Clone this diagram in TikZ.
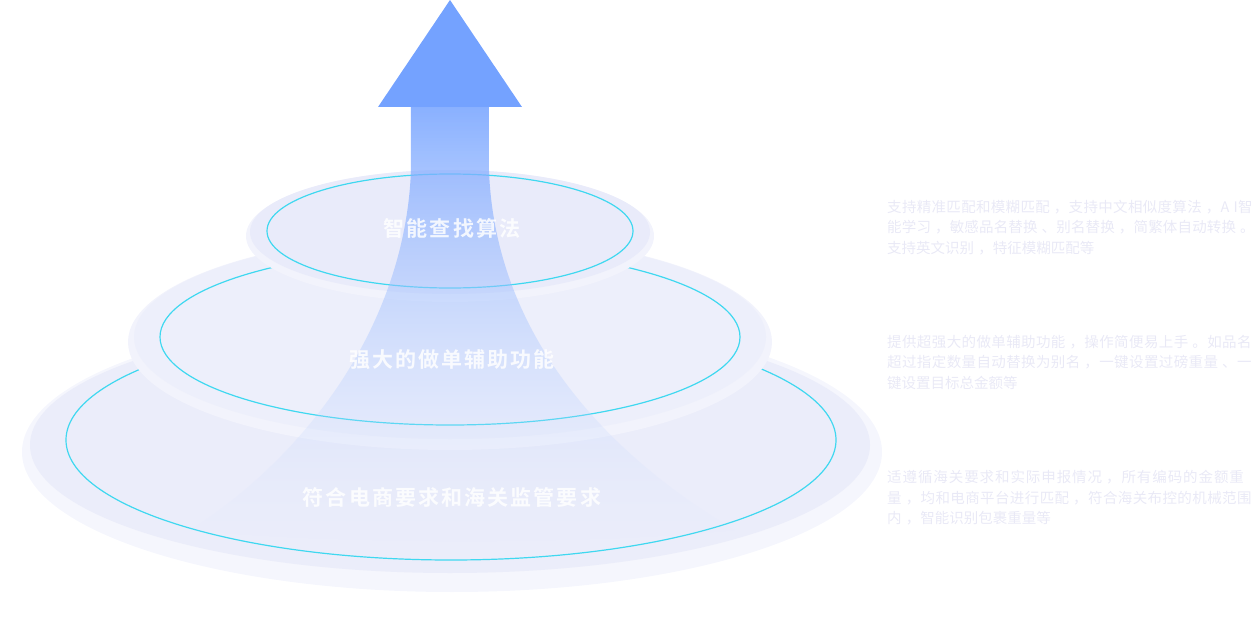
\documentclass[tikz,border=0pt]{standalone}
\usepackage{fontspec}
\setmainfont{Noto Sans CJK SC}
\newfontfamily\descfont[LetterSpace=28]{Noto Sans CJK SC}
\newfontfamily\lblfont[LetterSpace=10]{Noto Sans CJK SC Bold}
\XeTeXlinebreaklocale "zh"
\XeTeXlinebreakskip=0pt plus 2pt
\usetikzlibrary{fadings}
\definecolor{ring}{HTML}{3FD8F0}
\definecolor{disk}{HTML}{E9EBFA}
\definecolor{desc}{HTML}{E9E9F6}
\definecolor{arrowc}{HTML}{74A2FF}
\tikzset{
  ringline/.style={draw=ring,line width=1.2pt},
  lbl/.style={font=\lblfont\fontsize{21}{25}\selectfont,text=white,opacity=0.85},
  desctext/.style={font=\descfont\fontsize{14.5}{20.5}\selectfont,text=desc,anchor=north west,align=left,text width=370pt,inner sep=0pt}
}
\begin{document}
\begin{tikzpicture}[x=1pt,y=-1pt]
\useasboundingbox (0,0) rectangle (1254,618);
% bottom disk
\fill[disk!45!white] (452,452) ellipse (430 and 140);
\fill[disk!90!white] (450,445) ellipse (420 and 128);
\draw[ringline] (451,440) ellipse (385 and 120);
% middle disk
\fill[disk!60!white] (450,342) ellipse (322 and 108);
\fill[disk!80!white] (450,337) ellipse (316 and 102);
\draw[ringline] (450,337) ellipse (290 and 88);
% top disk
\fill[disk!60!white] (450,236) ellipse (204 and 66);
\fill[disk] (450,232) ellipse (200 and 62);
\draw[ringline] (450,231) ellipse (183 and 57);
% arrow
\fill[arrowc] (450,0) -- (522,107) -- (378,107) -- cycle;
\shade[top color=arrowc,bottom color=arrowc!25!white,opacity=0.85,path fading=south]
  (411,106) -- (411,170) .. controls (405,330) and (300,460) .. (190,530)
  .. controls (350,545) and (580,545) .. (735,530)
  .. controls (600,450) and (495,330) .. (489,170) -- (489,106) -- cycle;
% labels
\node[lbl] (t1) at (452,228) {智能查找算法};
\node[lbl] (t2) at (452,360) {强大的做单辅助功能};
\node[lbl] (t3) at (452,497) {符合电商要求和海关监管要求};
% descriptions
\node[desctext] (d1) at (887,200) {支持精准匹配和模糊匹配，支持中文相似度算法，AI智能学习，敏感品名替换、别名替换，简繁体自动转换。支持英文识别，特征模糊匹配等};
\node[desctext] (d2) at (887,335) {提供超强大的做单辅助功能，操作简便易上手。如品名超过指定数量自动替换为别名，一键设置过磅重量、一键设置目标总金额等};
\node[desctext] (d3) at (887,470) {适遵循海关要求和实际申报情况，所有编码的金额重量，均和电商平台进行匹配，符合海关布控的机械范围内，智能识别包裹重量等};
\end{tikzpicture}
\end{document}
